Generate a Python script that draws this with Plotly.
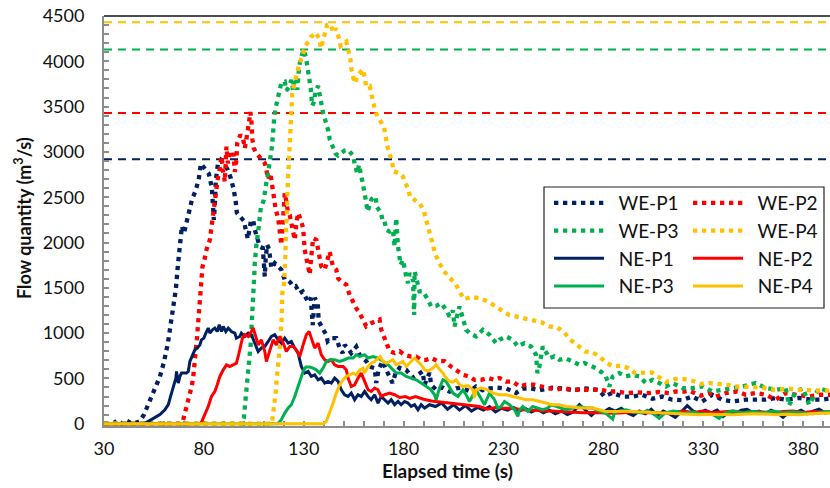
import plotly.graph_objects as go

# ---------------- data (time s, flow m3/s) ----------------
peak_levels = [2920, 3430, 4130, 4430]  # WE-P1..WE-P4 peak reference lines

we_p1 = [(30,0),(33,0),(35,10),(37,40),(39,0),(41,40),(44,0),(46,10),(48,30),(50,100),(52,200),(54,300),(56,400),(58,520),(60,680),(62,890),(64,1190),(66,1490),(67,1750),(68,1985),(69,2180),(70,2100),(71.5,2240),(73,2330),(74,2470),(76,2580),(77.5,2710),(78.5,2870),(80.5,2820),(82.5,2760),(84,2600),(84.5,2470),(85,2250),(85.5,2420),(86,2690),(87,2860),(88.5,2910),(90.5,2860),(92,2800),(93.5,2710),(95,2580),(96,2440),(96.5,2330),(98,2290),(100,2240),(101,2140),(102,2040),(103.5,2230),(104.7,2250),(105.5,2140),(106.5,2060),(108,1955),(109.5,1940),(110,1740),(110.5,1625),(111,1845),(111.7,1975),(112.7,1920),(113.8,1717),(115.5,1772),(117.2,1735),(118.8,1700),(120.5,1590),(122.2,1580),(123.3,1560),(124.7,1515),(126,1520),(128,1440),(129.5,1460),(131,1400),(132,1350),(133.5,1390),(134,1180),(134.5,1090),(135.5,1390),(137,1335),(137.5,1130),(138.8,1075),(141.3,980),(142,910),(143.8,945),(146.3,945),(148,835),(149.5,780),(150.5,870),(152,835),(153.8,780),(156.3,850),(158,760),(161.3,690),(163,630),(165.5,614),(166.3,450),(167.5,600),(169.5,690),(171.3,595),(173,507),(174.5,450),(176,560),(178,617),(181.3,595),(184.5,507),(187,540),(189.5,577),(190.5,430),(193,562),(193.8,430),(196.3,375),(199.5,400),(203,356),(206.3,390),(208.8,397),(213,360),(216.3,411),(219.5,370),(223,390),(227,397),(231.3,390),(236.3,340),(239.5,388),(243.8,390),(248,370),(254.5,397),(259.5,390),(264.5,370),(271.3,390),(278,370),(280.5,300),(284.5,340),(289.5,300),(294.5,300),(299.5,320),(304.5,275),(309.5,300),(314.5,265),(319.5,260),(324.5,300),(329.5,245),(334.5,320),(339.5,265),(344.5,245),(351.3,265),(356.3,265),(361.3,265),(366.3,285),(371.3,265),(378,285),(384.5,265),(389.5,265),(393.5,280)]

we_p2 = [(30,0),(68,0),(69.5,30),(71,150),(71.8,220),(72.7,320),(74,420),(74.7,520),(75,620),(75.5,725),(76,825),(76.5,930),(77.3,1130),(77.8,1300),(78.3,1430),(78.6,1530),(79,1630),(79.3,1730),(80.5,1830),(81.3,1920),(83,2030),(83.5,2120),(84.2,2215),(85,2305),(85.5,2395),(86,2505),(86.7,2600),(87,2710),(88,2820),(88.8,2950),(89.5,2800),(90.5,2670),(91.3,3060),(92,2875),(93,2990),(94.7,3005),(95.5,2780),(96.3,2910),(96.7,3095),(98.3,3190),(99.7,3140),(100.5,3040),(101.3,3140),(102.2,3240),(102.7,3345),(103.3,3440),(103.8,3345),(104.3,3140),(105,3040),(106.3,2985),(107.5,2950),(108.8,2920),(110.5,2875),(111.3,2800),(112.2,2700),(113.3,2765),(114,2655),(114.3,2560),(115.5,2450),(116,2360),(117.2,2270),(118,2065),(118.8,1975),(119.5,2200),(120.5,2545),(121.3,2452),(122.2,2325),(123,2305),(123.8,2215),(124.7,2120),(125.5,2030),(126.3,2215),(127.2,2325),(128.5,2250),(129.7,2160),(130.5,1920),(131.3,1810),(132.2,1700),(133,1645),(133.8,1845),(134.7,2050),(136.3,2030),(137.2,1940),(138,1845),(138.8,1735),(140.5,1700),(143,1900),(143.8,1810),(144.7,1735),(146.3,1700),(147.2,1607),(148.8,1570),(151.3,1535),(153,1420),(154.7,1330),(156.3,1275),(158,1220),(159.7,1130),(161.3,1075),(163.8,1110),(166.3,1130),(168,1150),(168.8,1040),(170.5,945),(172.2,870),(173,800),(175.5,780),(178,800),(180.5,760),(183.8,740),(186.3,740),(188.8,705),(191.3,705),(193.8,725),(197.2,690),(200.5,690),(203.8,630),(206.3,595),(209.7,540),(213,520),(215.5,485),(218.8,485),(222.2,505),(225.5,485),(228,505),(231.3,465),(234.7,465),(238,411),(241.3,430),(245.5,430),(248.8,411),(253,394),(256.3,375),(259.7,394),(264.7,375),(268,375),(271.3,375),(278,375),(283,356),(287.2,356),(291.3,338),(297.2,345),(303,338),(308,350),(313,338),(316.3,356),(320.5,356),(323,365),(328.8,310),(333,338),(336.3,300),(341.3,338),(347.2,356),(351.3,320),(356.3,338),(361.3,320),(366.3,265),(371.3,338),(376.3,320),(383,300),(388,320),(393.5,320)]

we_p3 = [(30,0),(99.5,0),(100,63),(100.5,173),(100.8,265),(101.3,375),(101.7,467),(102.2,577),(102.5,670),(103,760),(103.3,850),(103.8,962),(103.9,1073),(104.2,1165),(104.3,1265),(104.7,1368),(105,1480),(105.2,1625),(105.5,1772),(105.8,1883),(106.3,1975),(107.5,2176),(108,2275),(108.5,2380),(110,2470),(110.5,2573),(111.3,2665),(112.2,2772),(113,2875),(113.3,2967),(114.2,3075),(114.5,3170),(114.7,3280),(115.2,3372),(115.8,3470),(116.8,3575),(117.7,3665),(118.8,3765),(120.5,3775),(121.3,3676),(122.5,3713),(123.8,3794),(124.7,3684),(125.2,3813),(126.3,3783),(126.8,3684),(127.5,3886),(128,3978),(129.3,4088),(130.2,4125),(131.3,4015),(132.2,3912),(133,3813),(133.5,3703),(133.8,3610),(134.3,3510),(135.2,3555),(135.8,3654),(137.2,3728),(138,3629),(138.8,3537),(139.7,3427),(141,3334),(142.2,3243),(143,3140),(144.3,3077),(146,2978),(147.2,2960),(148.8,2992),(150.5,3015),(152.2,3022),(154.7,2960),(155.5,2868),(156.8,2765),(157.7,2857),(158.8,2757),(159.7,2636),(160.5,2545),(161.3,2434),(162,2342),(164,2480),(166,2507),(166.5,2397),(168.8,2324),(169.5,2231),(170.5,2231),(171.3,2140),(173,2121),(174.7,2140),(175.5,1956),(176.3,2269),(176.8,2048),(177.2,1956),(177.8,1864),(178.5,1754),(179.7,1809),(180.5,1699),(181.3,1625),(182.2,1552),(183,1662),(184.7,1588),(185,1368),(185.3,1200),(185.5,1680),(186.3,1625),(187.2,1533),(188,1460),(189.7,1460),(192.2,1368),(193.8,1294),(196.3,1300),(198.8,1331),(201.3,1257),(203,1184),(204.7,1250),(205.5,1073),(208,1294),(211.3,1037),(213,1000),(216.3,963),(219.7,1037),(223,982),(226.3,890),(228,926),(231.3,963),(234.7,926),(237.2,853),(240.5,890),(243.8,853),(246.3,761),(247,559),(248,632),(249.7,853),(253,725),(255.5,743),(258,706),(261.3,720),(264.7,687),(268,651),(270.5,670),(273.8,632),(276.3,614),(279.7,559),(281.3,522),(283,411),(284.7,522),(288,559),(291.3,522),(294.7,540),(298,522),(301.3,449),(304.7,485),(308,449),(311.3,411),(314.7,449),(319.7,394),(324.7,394),(329.7,411),(334.7,356),(339.7,375),(344.7,394),(349.7,411),(356.3,449),(361.3,394),(366.3,375),(371.3,394),(373,200),(376.3,356),(380,390),(383,210),(388,390),(393.5,356)]

we_p4 = [(30,0),(114,0),(114.3,44),(115,154),(115.5,265),(116,356),(116.3,449),(116.8,540),(117.2,632),(117.7,742),(118,835),(118.3,945),(118.8,1037),(118.9,1130),(119,1239),(119.2,1331),(119.3,1442),(120.2,1552),(120.5,1643),(120.6,1754),(120.8,1845),(120.9,1956),(121,2048),(121.1,2158),(121.3,2250),(121.6,2360),(121.7,2452),(121.8,2562),(122.1,2655),(122.2,2757),(122.5,2857),(122.7,2960),(122.9,3059),(123,3158),(123.3,3261),(123.5,3360),(123.7,3463),(123.8,3563),(124.3,3665),(125.5,3765),(126.3,3858),(127.7,3960),(129.7,4088),(131,4173),(133.8,4272),(136,4316),(138,4243),(138.5,4144),(139.3,4199),(140.5,4302),(141.7,4401),(143,4412),(143.8,4390),(144.7,4316),(146,4364),(147.2,4290),(148.5,4169),(151.3,4217),(152.2,4125),(153.3,4034),(153.8,3923),(154.7,3831),(155.5,3758),(157.2,3850),(159.7,3912),(160.5,3824),(161.3,3720),(163,3728),(163.8,3629),(165,3530),(166,3434),(168,3345),(170.2,3272),(171,3177),(171.7,3077),(173,2978),(174.3,2882),(175,2783),(178,2765),(179.7,2728),(180.5,2673),(182.2,2600),(183.3,2500),(184.7,2490),(186.3,2452),(188,2434),(190,2360),(191.3,2250),(192.5,2151),(193.5,2055),(194.7,1956),(196,1864),(198,1772),(200,1688),(203,1614),(206,1544),(208,1460),(210.2,1375),(213.8,1398),(218,1386),(222.2,1349),(225.5,1305),(229.3,1257),(232.7,1202),(236.3,1184),(241,1166),(245,1140),(249.3,1118),(252.7,1073),(256.7,1066),(260.5,1007),(263.5,926),(267.2,864),(271,797),(274.7,787),(278,742),(281.8,669),(285,632),(288.8,640),(292.7,614),(296,559),(300.5,566),(304.3,566),(307.7,515),(311.3,460),(316,493),(320.5,493),(324.7,474),(328.8,438),(333,449),(337.5,441),(342.2,430),(346.3,411),(350.8,411),(355.2,411),(359.7,400),(363.8,375),(368.5,386),(373,386),(377.5,375),(381.7,367),(386.3,367),(391.3,365),(393.5,365)]

ne_p1 = [(30,0),(50,0),(51.3,15),(54.7,63),(58,100),(60.5,155),(62.2,210),(63.3,300),(64.7,394),(66,504),(66.3,577),(67.2,449),(68,522),(68.8,559),(71.3,559),(72.2,577),(73,687),(74.3,761),(75.5,816),(76.7,835),(78,871),(78.8,926),(80,945),(81,1000),(82.2,1056),(83,1000),(84.3,1037),(85.5,1056),(86.7,1018),(87.7,1092),(88.8,1018),(89.7,1073),(91,1018),(92.2,1056),(93.8,1018),(95.5,1000),(96.3,945),(98,963),(98.8,1000),(100.5,963),(102.2,1000),(103.8,982),(105.5,890),(107.2,797),(108.8,835),(110.5,853),(112.2,908),(113.8,963),(115.5,982),(117.2,926),(118.8,890),(120.5,945),(122.2,890),(123.8,908),(125.5,835),(127.2,780),(128.8,632),(130.5,559),(132.2,577),(133.8,522),(135.5,540),(137.2,485),(138.8,504),(140.5,449),(142.2,467),(143.8,449),(145.5,504),(147.2,467),(148.8,375),(150.5,320),(152.2,301),(153.8,338),(155.5,265),(157.2,320),(158.8,301),(160.5,356),(162.2,301),(163.8,265),(165.5,320),(167.2,228),(168.8,301),(170.5,265),(172.2,228),(173.8,265),(175.5,210),(177.2,246),(178.8,210),(180.5,246),(182.2,228),(183.8,191),(185.5,210),(187.2,155),(188.8,210),(190.5,173),(193,210),(196,190),(199,230),(202,160),(205,210),(208,150),(211,200),(214,140),(217,180),(220,150),(223,190),(226,130),(229,170),(232,150),(235,180),(238,140),(241,170),(244,130),(247,160),(250,120),(253,150),(256,110),(259,140),(262,100),(265,130),(268,210),(271,150),(274,90),(277,150),(280,130),(283,170),(286,140),(289,170),(292,120),(295,90),(298,140),(301,110),(304,160),(307,90),(310,140),(313,110),(316,70),(319,130),(322,200),(325,140),(328,110),(331,150),(334,120),(337,150),(340,80),(343,130),(346,110),(349,150),(352,160),(355,120),(358,140),(361,110),(364,150),(367,120),(370,70),(373,130),(376,120),(379,150),(382,110),(385,140),(388,160),(391,120),(393.5,130)]

ne_p2 = [(30,0),(78,0),(78.8,15),(80.5,100),(82.2,191),(83.8,301),(85.5,356),(86.7,430),(88,522),(89.7,595),(91.3,650),(93,632),(94.7,650),(96.3,669),(97.2,742),(98,835),(99.3,945),(100.5,982),(102.2,963),(103.8,1018),(104.7,1056),(105.5,1000),(106.5,930),(107.2,871),(108.8,926),(110.5,797),(111.3,687),(113,816),(114.7,926),(116.3,871),(118,963),(119.7,890),(121.3,797),(123,853),(124.7,853),(126.3,816),(128,742),(129.7,871),(131.3,982),(132.7,1018),(133.8,945),(135.5,835),(137.2,890),(138.8,761),(140.5,706),(142.2,687),(143.8,706),(145.5,650),(147.2,632),(149.7,632),(151.3,595),(152.2,504),(153.8,411),(155.5,430),(157.2,504),(158.8,559),(160.5,467),(162.2,375),(163.8,356),(165.5,394),(167.2,375),(168.8,301),(170.5,320),(173,338),(175.5,320),(178,290),(181,300),(183,280),(186,300),(190,270),(194,250),(198,240),(202,230),(206,220),(210,210),(214,200),(218,190),(222,160),(226,180),(230,170),(234,170),(238,160),(242,150),(246,150),(250,140),(254,140),(258,135),(262,125),(266,120),(270,120),(275,125),(280,120),(285,115),(290,120),(295,130),(300,120),(305,125),(310,115),(315,130),(320,140),(325,125),(330,140),(335,120),(340,130),(345,140),(350,125),(355,135),(360,130),(365,120),(370,135),(375,140),(380,125),(385,135),(390,130),(393.5,135)]

ne_p3 = [(30,0),(117,0),(118.8,44),(120.5,118),(122.2,173),(123.8,210),(125.5,301),(127.2,411),(128.3,504),(129.7,577),(131,625),(133,625),(134.7,614),(136.3,595),(138,559),(139.7,614),(141.3,687),(143,706),(145.5,706),(148,687),(150.5,706),(152.2,725),(154.7,725),(156.3,761),(158,742),(160.5,761),(162.2,725),(164.7,742),(167.2,725),(169.7,687),(172.2,651),(174.7,596),(176.3,559),(178.8,559),(181.3,522),(183.8,504),(186.3,485),(188.8,449),(191.3,411),(193.5,380),(195.5,320),(196.3,265),(198,394),(199.7,485),(201.3,467),(203,394),(204.7,338),(207.2,301),(209.7,375),(211.3,320),(213,246),(216.3,375),(218,301),(220.5,210),(223,338),(225.5,265),(227.2,173),(228.8,190),(230.5,246),(233,210),(235.5,155),(237.2,81),(238,150),(239.7,191),(242.2,136),(244.7,191),(247.2,173),(249.7,155),(252.2,173),(253.8,210),(256.3,191),(258.8,173),(261.3,155),(264.7,173),(268,191),(271.3,173),(274.7,173),(278,136),(281,120),(283,81),(284.7,50),(285.5,118),(288,140),(291.3,155),(295,130),(299.7,118),(302,150),(305,110),(308,60),(311,120),(315,140),(318,130),(320,110),(325,130),(328,110),(330,110),(335,100),(338,60),(341,120),(345,140),(350,120),(355,135),(360,120),(365,140),(370,120),(375,130),(380,120),(385,110),(390,130),(393.5,135)]

ne_p4 = [(30,0),(139.7,0),(141.3,25),(143,118),(144.7,228),(146.3,338),(148,430),(149.7,485),(151.3,522),(153,540),(154.7,559),(156.3,540),(158,595),(159.7,614),(160.5,559),(162.2,632),(163.8,669),(165.5,687),(167.2,725),(168.3,742),(169.7,687),(171.3,669),(173,687),(174.7,706),(176.3,651),(178,669),(179.7,687),(181.3,632),(183,669),(185.5,725),(187.2,687),(188.8,651),(190.5,596),(192.2,580),(194.7,614),(196.3,651),(198,600),(199.7,559),(201.3,504),(203,467),(204.7,460),(206.3,485),(208,430),(209.7,411),(212.2,420),(214.7,375),(215.5,283),(216.3,375),(218.8,394),(221.3,380),(224.7,338),(228,320),(231.3,320),(234.7,301),(238,283),(241.3,265),(244.7,265),(248,246),(251.3,228),(254.7,210),(258,210),(261.3,191),(264.7,185),(268,173),(271.3,175),(274.7,173),(278,155),(281.3,136),(284.7,136),(290,140),(294.7,136),(300,130),(305,125),(311.3,118),(316,120),(322,110),(328,100),(334,105),(340,100),(344.7,100),(350,105),(355,110),(361.3,107),(367,100),(372,105),(378,100),(384,110),(390,115),(393.5,118)]

series_names = ["WE-P1", "WE-P2", "WE-P3", "WE-P4", "NE-P1", "NE-P2", "NE-P3", "NE-P4"]
series_data = [we_p1, we_p2, we_p3, we_p4, ne_p1, ne_p2, ne_p3, ne_p4]
x_ticks = [30, 80, 130, 180, 230, 280, 330, 380]
y_ticks = [0, 500, 1000, 1500, 2000, 2500, 3000, 3500, 4000, 4500]

# ---------------- styling ----------------
palette = ["#002060", "#FF0000", "#00B050", "#FFC000"]
FONT = "Lato"
L, R, T, B = 104, 0, 16, 62
W, H = 830, 488
PW, PH = W - L - R, H - T - B


def px_x(p):
    return (p - L) / PW


def px_y(p):
    return (H - B - p) / PH


fig = go.Figure()

for i, (name, pairs) in enumerate(zip(series_names, series_data)):
    xs = [p[0] for p in pairs]
    ys = [p[1] for p in pairs]
    dotted = name.startswith("WE")
    color = palette[i % 4]
    fig.add_trace(go.Scatter(
        x=xs, y=ys, mode="lines", name="\u00a0\u00a0" + name,
        line=dict(color=color, width=4.3 if dotted else 3,
                  dash="4.3px,4.7px" if dotted else "solid"),
        legend="legend" if (i % 2 == 0) else "legend2",
        legendgroup=name,
        showlegend=True,
        hoverinfo="skip",
    ))

shapes = []
for lvl, col in zip(peak_levels, palette):
    shapes.append(dict(type="line", xref="paper", yref="y", x0=0, x1=1, y0=lvl, y1=lvl,
                       line=dict(color=col, width=2, dash="8px,6px"), layer="below"))
# top frame line
shapes.append(dict(type="line", xref="paper", yref="paper", x0=0, x1=1, y0=1, y1=1,
                   line=dict(color="#111111", width=1.5)))
# legend box
shapes.append(dict(type="rect", xref="paper", yref="paper",
                   x0=px_x(544), x1=px_x(824), y0=px_y(308), y1=px_y(187),
                   line=dict(color="#222222", width=1.2), fillcolor="rgba(255,255,255,1)",
                   layer="below"))

legend_common = dict(
    orientation="v", yanchor="top", xanchor="left",
    bgcolor="rgba(0,0,0,0)", borderwidth=0,
    font=dict(family=FONT, size=19, color="#111111"),
    itemwidth=50, tracegroupgap=10, traceorder="normal",
)

fig.update_layout(
    width=W, height=H,
    margin=dict(l=L, r=R, t=T, b=B, pad=0),
    paper_bgcolor="white", plot_bgcolor="white",
    font=dict(family=FONT, size=18, color="#111111"),
    showlegend=True,
    legend=dict(x=px_x(549), y=px_y(184), **legend_common),
    legend2=dict(x=px_x(688), y=px_y(184), **legend_common),
    shapes=shapes,
    annotations=[
        dict(text="<b>Elapsed time (s)</b>", xref="paper", yref="paper",
             x=px_x(447), y=px_y(470), xanchor="center", yanchor="middle",
             showarrow=False, font=dict(family=FONT, size=19, color="#111111")),
        dict(text="<b>Flow quantity (m<sup>3</sup>/s)</b>", xref="paper", yref="paper",
             x=px_x(23), y=px_y(218), xanchor="center", yanchor="middle", textangle=-90,
             showarrow=False, font=dict(family=FONT, size=18, color="#111111")),
    ],
    xaxis=dict(
        range=[30, 393.5], tickmode="array", tickvals=x_ticks,
        ticktext=[str(v) for v in x_ticks],
        showgrid=False, zeroline=False,
        showline=True, linecolor="#8c8c8c", linewidth=2,
        ticks="inside", ticklen=5, tickwidth=1.5, tickcolor="#8c8c8c",
        minor=dict(tick0=30, dtick=10, ticks="inside", ticklen=5, tickwidth=1.5, tickcolor="#8c8c8c"),
        tickfont=dict(family=FONT, size=18, color="#111111"),
        ticklabelstandoff=5,
        layer="below traces",
    ),
    yaxis=dict(
        range=[-25, 4500], tickmode="array", tickvals=y_ticks,
        ticktext=[str(v) for v in y_ticks],
        showgrid=False, zeroline=False,
        showline=True, linecolor="#8c8c8c", linewidth=2,
        ticks="inside", ticklen=5, tickwidth=1.5, tickcolor="#8c8c8c",
        minor=dict(tick0=0, dtick=100, ticks="inside", ticklen=5, tickwidth=1.5, tickcolor="#8c8c8c"),
        tickfont=dict(family=FONT, size=18, color="#111111"),
        ticklabelstandoff=14,
        layer="below traces",
    ),
)

fig.write_html(
    "out.html",
    config={"displayModeBar": False},
    post_script="document.body.style.margin='0';document.body.style.padding='0';",
)
